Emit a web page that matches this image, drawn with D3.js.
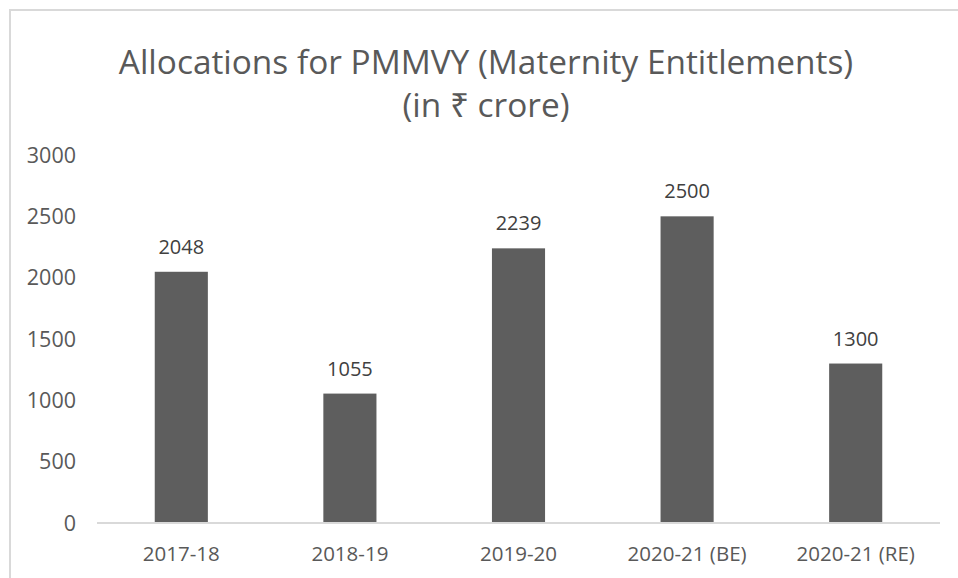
<!DOCTYPE html>
<html>
<head>
<meta charset="utf-8">
<script src="https://cdn.jsdelivr.net/npm/d3@7"></script>
<style>
  body { margin: 0; background: #fff; overflow: hidden; }
  text { font-family: "Open Sans", sans-serif; }
</style>
</head>
<body>
<svg id="chart" width="958" height="578"></svg>
<script>
// data
const years = ['2017-18', '2018-19', '2019-20', '2020-21 (BE)', '2020-21 (RE)']
const allocations = [2048, 1055, 2239, 2500, 1300]
const yTicks = [0, 500, 1000, 1500, 2000, 2500, 3000]
const titleLines = ['Allocations for PMMVY (Maternity Entitlements)', '(in ₹ crore)']

const width = 958, height = 578
const margin = {left: 97, right: 18, top: 155, bottom: 55}

const svg = d3.select('#chart')

// chart frame, runs off the right and bottom edge like the screenshot
svg.append('rect')
  .attr('x', 10).attr('y', 10)
  .attr('width', 980).attr('height', 600)
  .attr('fill', 'none')
  .attr('stroke', '#d9d9d9')
  .attr('stroke-width', 2)

let x = d3.scaleBand()
  .domain(years)
  .range([margin.left, width - margin.right])
  .paddingInner(0.685)
  .paddingOuter(0.3425)

let y = d3.scaleLinear()
  .domain([0, 3000])
  .range([height - margin.bottom, margin.top])

// title
svg.append('g')
  .selectAll('text')
  .data(titleLines)
  .enter().append('text')
    .attr('x', 486)
    .attr('y', (d, i) => 74 + i * 43)
    .attr('text-anchor', 'middle')
    .style('font-size', '33.4px')
    .style('fill', '#595959')
    .text(d => d)

// y axis labels (no gridlines in the original)
svg.append('g')
  .selectAll('text')
  .data(yTicks)
  .enter().append('text')
    .attr('x', 76)
    .attr('y', d => y(d))
    .attr('dy', '0.35em')
    .attr('text-anchor', 'end')
    .style('font-size', '21.5px')
    .style('fill', '#595959')
    .text(d => d)

// bars
svg.append('g')
  .selectAll('rect')
  .data(allocations)
  .enter().append('rect')
    .attr('x', (d, i) => x(years[i]))
    .attr('y', d => y(d))
    .attr('width', x.bandwidth())
    .attr('height', d => y(0) - y(d))
    .attr('fill', '#5e5e5e')

// value labels
svg.append('g')
  .selectAll('text')
  .data(allocations)
  .enter().append('text')
    .attr('x', (d, i) => x(years[i]) + x.bandwidth() / 2)
    .attr('y', d => y(d) - 18)
    .attr('text-anchor', 'middle')
    .style('font-size', '20px')
    .style('fill', '#404040')
    .text(d => d)

// baseline
svg.append('line')
  .attr('x1', margin.left).attr('x2', width - margin.right)
  .attr('y1', y(0)).attr('y2', y(0))
  .attr('stroke', '#d9d9d9')
  .attr('stroke-width', 2)

// category labels
svg.append('g')
  .selectAll('text')
  .data(years)
  .enter().append('text')
    .attr('x', d => x(d) + x.bandwidth() / 2)
    .attr('y', y(0) + 31)
    .attr('dy', '0.35em')
    .attr('text-anchor', 'middle')
    .style('font-size', '20.5px')
    .style('fill', '#595959')
    .text(d => d)
</script>
</body>
</html>
